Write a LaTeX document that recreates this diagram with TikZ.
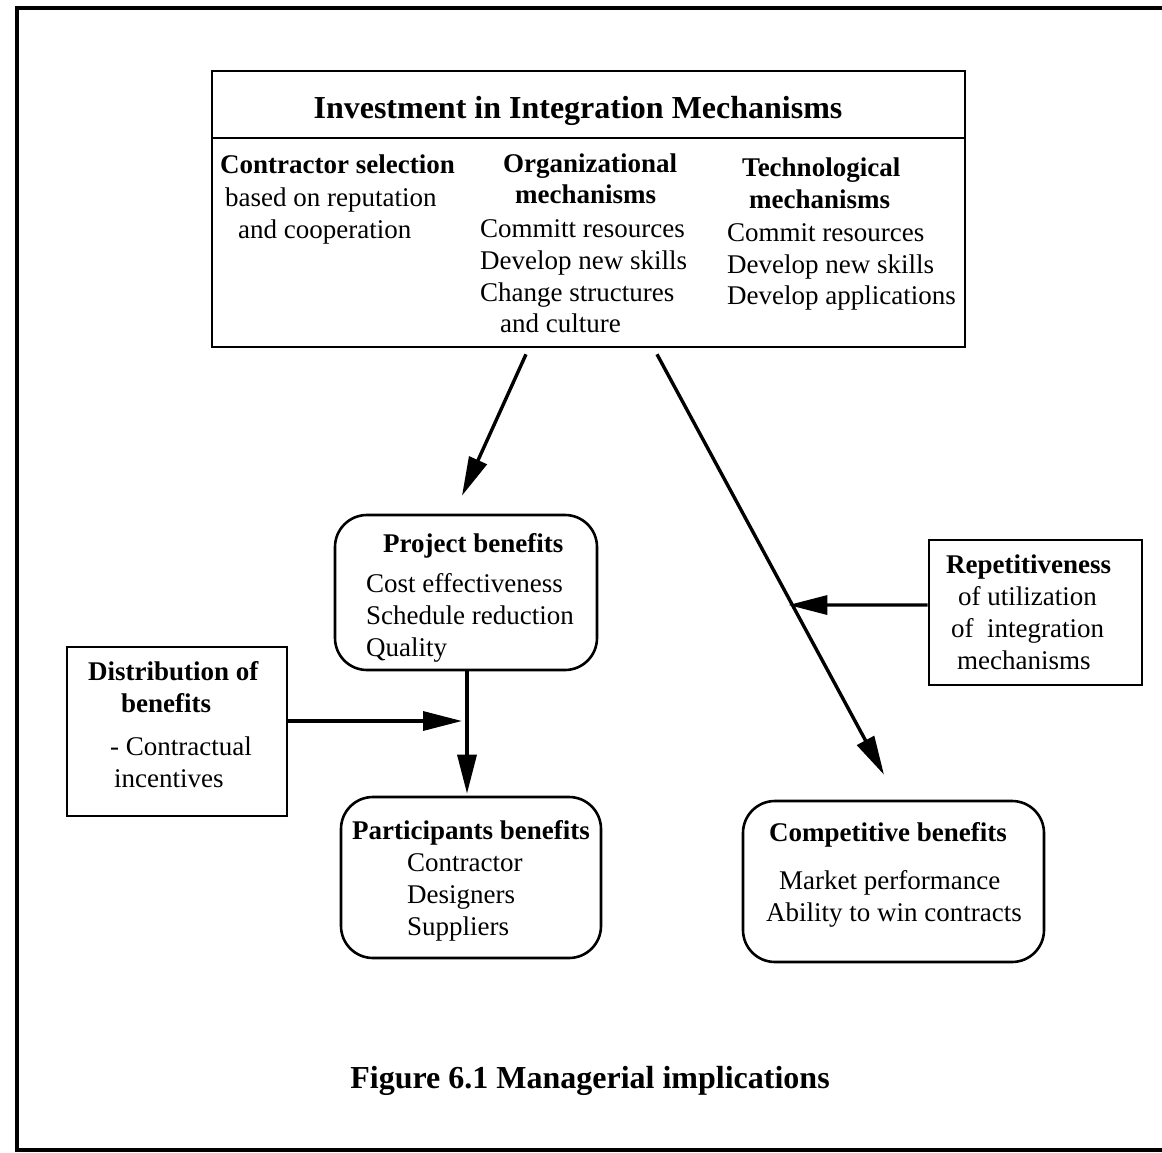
\documentclass[tikz,border=0pt]{standalone}
\usepackage{fontspec}
\setmainfont{Liberation Serif}
\usetikzlibrary{arrows.meta,calc}
\newcommand{\bodyfont}{\fontsize{27}{32}\selectfont}
\newcommand{\headfont}{\fontsize{32}{38}\selectfont\bfseries}

\begin{document}
\begin{tikzpicture}[x=1pt,y=-1pt,
  box/.style={draw, line width=2.6pt, inner sep=0},
  rbox/.style={box, rounded corners=32pt},
  txt/.style={inner sep=0, anchor=west, yshift=-3pt, text height=19pt, text depth=7pt, font=\bodyfont},
  hd/.style={txt, font=\bodyfont\bfseries},
  big/.style={inner sep=0, yshift=-3.5pt, font=\headfont},
  link/.style={line width=3.4pt, -{Triangle[length=39pt,width=19pt]}},
]
\useasboundingbox (0,0) rectangle (1162,1153);

% frame around the figure
\draw[line width=3.5pt] (1170,8) -- (17,8) -- (17,1150) -- (1170,1150);

% boxes
\node[box, minimum width=753pt, minimum height=276pt] (top) at (588.5,209) {};
\draw[line width=2.6pt] (top.west |- 0,138) -- (top.east |- 0,138);
\node[rbox, minimum width=262pt, minimum height=155pt] (pb) at (466,592.5) {};
\node[rbox, minimum width=260pt, minimum height=161pt] (part) at (471,877.5) {};
\node[rbox, minimum width=301pt, minimum height=161pt] (comp) at (893.5,881.5) {};
\node[box, minimum width=220pt, minimum height=169pt] (dist) at (177,731.5) {};
\node[box, minimum width=213pt, minimum height=145pt] (rep) at (1035.5,612.5) {};

% top box contents
\node[big] (title) at (578,107) {Investment in Integration Mechanisms};

\node[hd]  (c1a) at (220,165) {Contractor selection};
\node[txt] (c1b) at (225,197) {based on reputation};
\node[txt] (c1c) at (238,229) {and cooperation};

\node[hd]  (c2a) at (503,163) {Organizational};
\node[hd]  (c2b) at (515,195) {mechanisms};
\node[txt] (c2c) at (480,228) {Committ resources};
\node[txt] (c2d) at (480,260) {Develop new skills};
\node[txt] (c2e) at (480,292) {Change structures};
\node[txt] (c2f) at (500,323) {and culture};

\node[hd]  (c3a) at (742,167) {Technological};
\node[hd]  (c3b) at (749,199) {mechanisms};
\node[txt] (c3c) at (727,232) {Commit resources};
\node[txt] (c3d) at (727,264) {Develop new skills};
\node[txt] (c3e) at (727,295) {Develop applications};

% project benefits
\node[hd]  (pba) at (383,543) {Project benefits};
\node[txt] (pbb) at (366,583) {Cost effectiveness};
\node[txt] (pbc) at (366,615) {Schedule reduction};
\node[txt] (pbd) at (366,647) {Quality};

% participants benefits
\node[hd]  (pta) at (352,830) {Participants benefits};
\node[txt] (ptb) at (407,862) {Contractor};
\node[txt] (ptc) at (407,894) {Designers};
\node[txt] (ptd) at (407,926) {Suppliers};

% competitive benefits
\node[hd]  (cpa) at (769,832) {Competitive benefits};
\node[txt] (cpb) at (779,880) {Market performance};
\node[txt] (cpc) at (766,912) {Ability to win contracts};

% distribution of benefits
\node[hd]  (dsa) at (88,671) {Distribution of};
\node[hd]  (dsb) at (121,703) {benefits};
\node[txt] (dsc) at (110,746) {- Contractual};
\node[txt] (dsd) at (114,778) {incentives};

% repetitiveness
\node[hd]  (rpa) at (946,564) {Repetitiveness};
\node[txt] (rpb) at (958,596) {of utilization};
\node[txt] (rpc) at (951,628) {of\ \ integration};
\node[txt] (rpd) at (957,660) {mechanisms};

% caption
\node[big] (cap) at (590,1077) {Figure 6.1 Managerial implications};

% connectors
\coordinate (s1) at ([xshift=-62.5pt,yshift=-6pt]top.south);
\coordinate (e1) at ([xshift=-4pt,yshift=18pt]pb.north);
\coordinate (s2) at ([xshift=68.5pt,yshift=-6pt]top.south);
\coordinate (e2) at ([xshift=-9.5pt,yshift=25pt]comp.north);
\draw[link] (s1) -- (e1);
\draw[link] (s2) -- (e2);

\coordinate (e4) at ($(pb.south |- part.north)+(1,-2)$);
\draw[link] ($(pb.south)+(1,0)$) -- (e4);

\coordinate (d1) at ([yshift=10.5pt]dist.east);
\coordinate (d2) at ($(d1 -| pb.south)+(-4,0)$);
\draw[link] (d1) -- (d2);

\coordinate (r1) at ([yshift=7.5pt]rep.west);
\coordinate (rx) at ($(r1)+(-300,0)$);
\coordinate (r2) at (intersection of s2--e2 and r1--rx);
\draw[link] (r1) -- ($(r2)+(-4,0)$);
\end{tikzpicture}
\end{document}
